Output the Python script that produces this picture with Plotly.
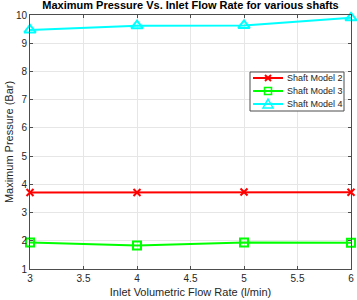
import plotly.graph_objects as go

flow = [3, 4, 5, 6]
model2 = [3.71, 3.71, 3.73, 3.72]
model3 = [1.94, 1.83, 1.94, 1.93]
model4 = [9.47, 9.62, 9.63, 9.90]
series_names = ["Shaft Model 2", "Shaft Model 3", "Shaft Model 4"]
x_ticks = [3, 3.5, 4, 4.5, 5, 5.5, 6]
y_ticks = list(range(1, 11))

colors = ["#ff0000", "#00ff00", "#00ffff"]
symbols = ["x-thin", "square-open", "triangle-up-open"]
sizes = [7, 8, 10]

FONT = "Liberation Sans, Arial"
W, H = 357, 300
L, R, T, B = 30, 6, 15, 31
PW, PH = W - L - R, H - T - B

fig = go.Figure()
for name, vals, col, sym, sz in zip(series_names, [model2, model3, model4], colors, symbols, sizes):
    fig.add_trace(go.Scatter(
        x=flow, y=vals, name=name, mode="lines+markers",
        line=dict(color=col, width=2),
        marker=dict(symbol=sym, size=sz, color=col, line=dict(color=col, width=2)),
        cliponaxis=False, showlegend=False,
    ))

# ---- legend drawn in paper space (MATLAB-style compact box) ----
def px(x):
    return (x - L) / PW

def py(y):
    return 1 - (y - T) / PH

shapes = []
annotations = []
box = dict(x0=250, x1=344, y0=72, y1=111)
shapes.append(dict(type="rect", xref="paper", yref="paper",
                   x0=px(box["x0"]), x1=px(box["x1"]), y0=py(box["y1"]), y1=py(box["y0"]),
                   line=dict(color="#4d4d4d", width=1), fillcolor="white", layer="above"))
row_y = [78, 91, 104]
for i, (name, col) in enumerate(zip(series_names, colors)):
    yc = row_y[i]
    shapes.append(dict(type="line", xref="paper", yref="paper",
                       x0=px(253), x1=px(283), y0=py(yc), y1=py(yc),
                       line=dict(color=col, width=2), layer="above"))
    mx = 268
    if i == 0:
        for d in (1, -1):
            shapes.append(dict(type="line", xref="paper", yref="paper",
                               x0=px(mx - 3), x1=px(mx + 3), y0=py(yc - 3 * d), y1=py(yc + 3 * d),
                               line=dict(color=col, width=2), layer="above"))
    elif i == 1:
        shapes.append(dict(type="rect", xref="paper", yref="paper",
                           x0=px(mx - 3.5), x1=px(mx + 3.5), y0=py(yc + 3.5), y1=py(yc - 3.5),
                           line=dict(color=col, width=1.5), fillcolor="rgba(0,0,0,0)", layer="above"))
    else:
        path = "M {:.5f} {:.5f} L {:.5f} {:.5f} L {:.5f} {:.5f} Z".format(
            px(mx - 5), py(yc + 4), px(mx + 5), py(yc + 4), px(mx), py(yc - 5))
        shapes.append(dict(type="path", xref="paper", yref="paper", path=path,
                           line=dict(color=col, width=1.5), fillcolor="rgba(0,0,0,0)", layer="above"))
    annotations.append(dict(xref="paper", yref="paper", x=px(285), y=py(yc),
                            xanchor="left", yanchor="middle", text=name, showarrow=False,
                            font=dict(family=FONT, size=9, color="#262626")))

axis_common = dict(
    showline=True, linecolor="#4d4d4d", linewidth=1, mirror="ticks",
    ticks="inside", ticklen=3, tickcolor="#4d4d4d",
    showgrid=True, gridcolor="#e6e6e6", gridwidth=1, zeroline=False,
    automargin=False,
    tickfont=dict(family=FONT, size=10, color="#262626"),
)
fig.update_xaxes(range=[3, 6], tickvals=x_ticks, ticktext=[str(t) for t in x_ticks],
                 title=dict(text="Inlet Volumetric Flow Rate (l/min)", standoff=5,
                            font=dict(family=FONT, size=11, color="#262626")),
                 **axis_common)
fig.update_yaxes(range=[1, 10], tickvals=y_ticks,
                 title=dict(text="Maximum Pressure (Bar)", standoff=0,
                            font=dict(family=FONT, size=11, color="#262626")),
                 **axis_common)
fig.update_layout(
    width=W, height=H,
    margin=dict(l=L, r=R, t=T, b=B, autoexpand=False),
    paper_bgcolor="white", plot_bgcolor="white",
    title=dict(text="<b>Maximum Pressure Vs. Inlet Flow Rate for various shafts</b>",
               x=0.5, xref="paper", xanchor="center", y=0.997, yanchor="top",
               font=dict(family=FONT, size=11, color="black")),
    shapes=shapes, annotations=annotations,
    showlegend=False,
)
fig.write_html("out.html", config={"displayModeBar": False},
               post_script="document.body.style.margin='0';")
